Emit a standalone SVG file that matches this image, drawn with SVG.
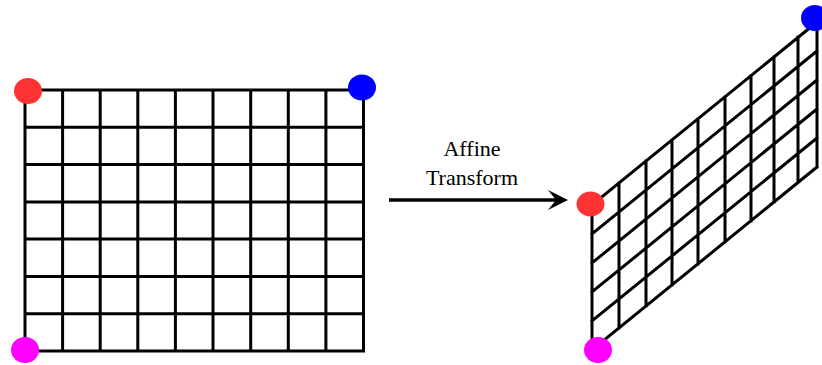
<svg xmlns="http://www.w3.org/2000/svg" width="822" height="365" viewBox="0 0 822 365">
  <style>
    .grid { fill: none; stroke: #000; stroke-width: 3; stroke-linecap: square; }
    .label { font-family: "Liberation Serif", "Times New Roman", serif; font-size: 22px; fill: #000; text-anchor: middle; }
    .red { fill: #ff3333; }
    .blue { fill: #0000ff; }
    .magenta { fill: #ff00ff; }
  </style>
  <defs>
    <marker id="arrowhead" markerUnits="userSpaceOnUse" viewBox="0 0 20 20" refX="10" refY="10" markerWidth="20" markerHeight="20" orient="auto">
      <path d="M0,0 L20,10 L0,20 L8,10 Z" fill="#000"/>
    </marker>
  </defs>

  <!-- Original square grid: 9 columns x 7 rows -->
  <g id="source-grid">
    <path class="grid" d="
      M25,90 H363.5 M25,127.3 H363.5 M25,164.6 H363.5 M25,201.9 H363.5
      M25,239.1 H363.5 M25,276.4 H363.5 M25,313.7 H363.5 M25,351 H363.5
      M25,90 V351 M62.6,90 V351 M100.2,90 V351 M137.8,90 V351 M175.4,90 V351
      M213,90 V351 M250.7,90 V351 M288.3,90 V351 M325.9,90 V351 M363.5,90 V351"/>
    <ellipse class="red" cx="28" cy="91" rx="14" ry="13"/>
    <ellipse class="blue" cx="362" cy="87.5" rx="14" ry="13"/>
    <ellipse class="magenta" cx="25" cy="350" rx="14" ry="13"/>
  </g>

  <!-- Connector with label -->
  <g id="connectors">
    <line x1="389" y1="200" x2="558" y2="200" stroke="#000" stroke-width="3.5" marker-end="url(#arrowhead)"/>
    <text class="label" x="472" y="156">Affine</text>
    <text class="label" x="472" y="185">Transform</text>
  </g>

  <!-- Sheared grid: 9 columns x 5 rows -->
  <g id="target-grid">
    <path class="grid" d="
      M592,205 L817,22 M592,234 L817,51 M592,263 L817,80
      M592,292 L817,109 M592,321 L817,138 M592,350 L817,167
      M592,205 V350
      M619,183 V328 M646,161 V306 M672,140 V285 M698,119 V264
      M725,97 V242 M751,76 V221 M774,57 V202 M798,37 V182
      M817,22 V167"/>
    <ellipse class="red" cx="590.5" cy="204" rx="14" ry="12.5"/>
    <ellipse class="blue" cx="815" cy="18" rx="14" ry="13"/>
    <ellipse class="magenta" cx="598" cy="350" rx="14" ry="13"/>
  </g>
</svg>
